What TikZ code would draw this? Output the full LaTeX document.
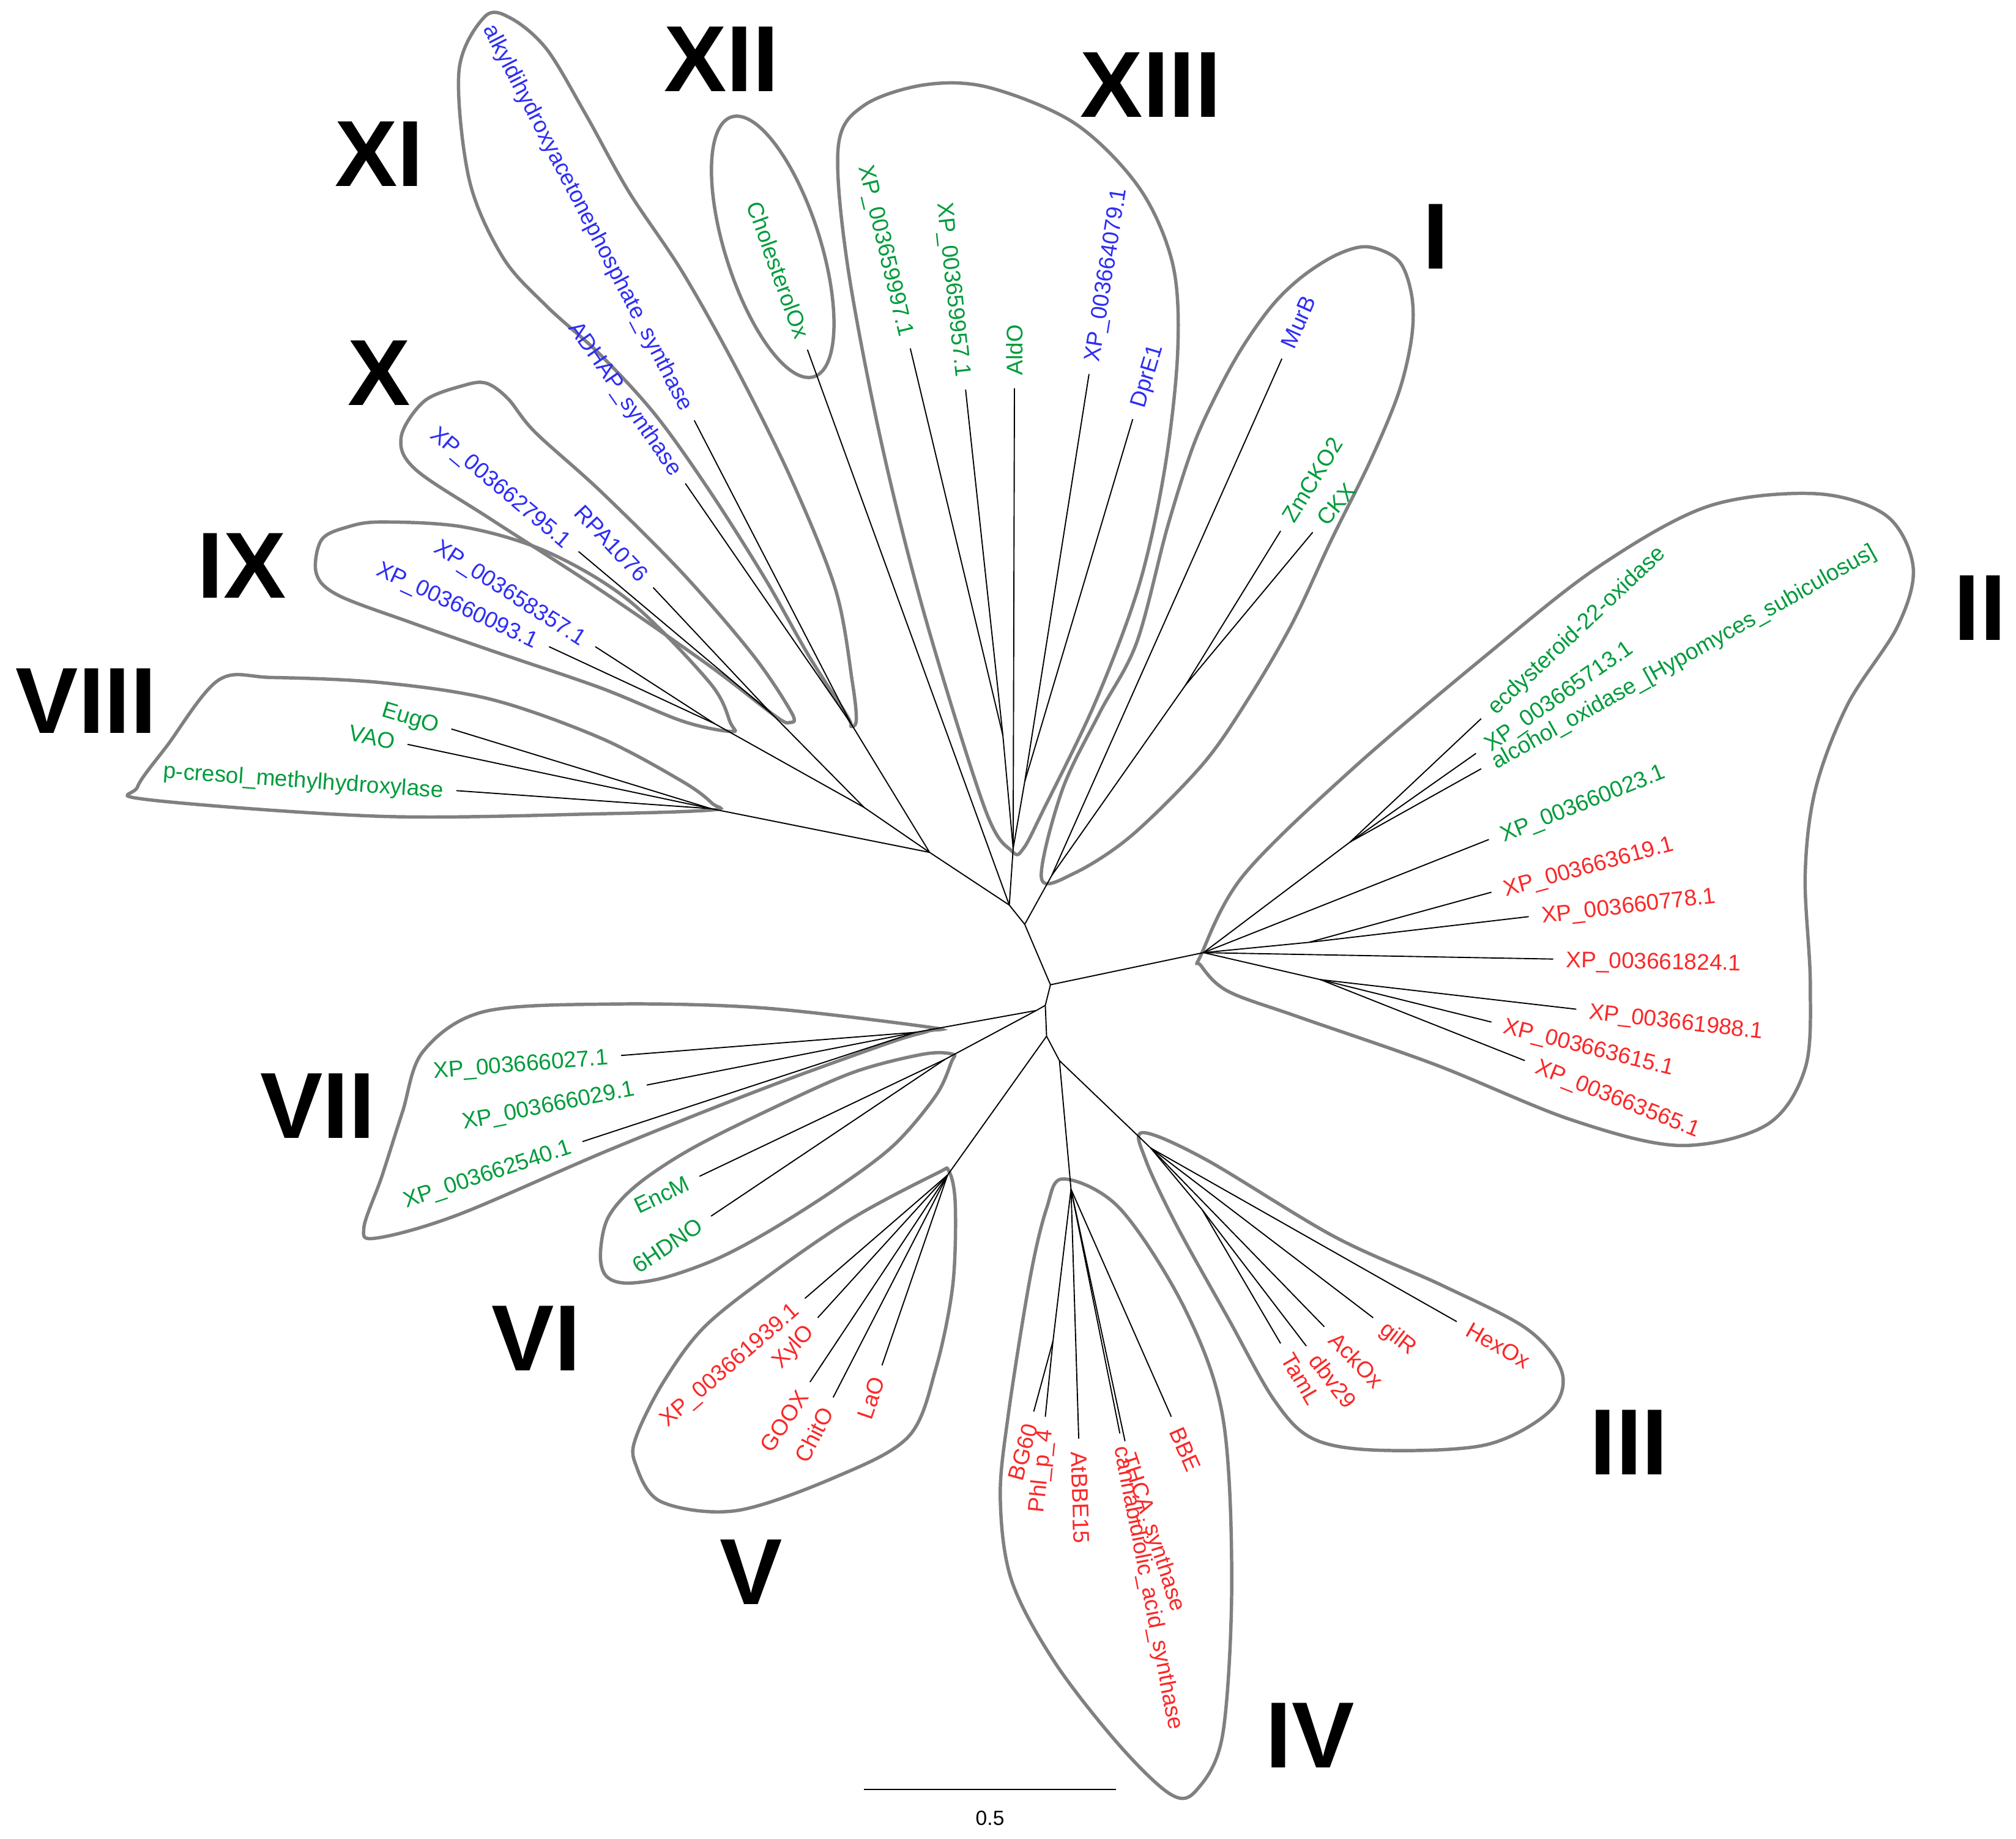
\documentclass[tikz,border=0pt]{standalone}
\usepackage{fontspec}
\setmainfont{Liberation Sans}
\usetikzlibrary{calc}
\definecolor{lgreen}{RGB}{0,155,60}
\definecolor{lblue}{RGB}{45,45,245}
\definecolor{lred}{RGB}{250,40,40}
\definecolor{hull}{RGB}{128,128,128}
% leaf reading away from the tree (right side)
\newcommand\leafR[5]{%
  \coordinate (#2) at (#3);
  \draw[branch] (#1) -- (#2);
  \path let \p1=($(#2)-(#1)$), \n1={atan2(\y1,\x1)} in
    node[leaf,text=#4,rotate=\n1,anchor=west] (l#2) at (#2) {#5};}
% leaf reading towards the tree (left side)
\newcommand\leafL[5]{%
  \coordinate (#2) at (#3);
  \draw[branch] (#1) -- (#2);
  \path let \p1=($(#2)-(#1)$), \n1={atan2(\y1,\x1)} in
    node[leaf,text=#4,rotate=\n1+180,anchor=east] (l#2) at (#2) {#5};}
\begin{document}
\begin{tikzpicture}[x=1pt,y=-1pt,
  branch/.style={line width=0.9pt,draw=black},
  hullline/.style={line width=2.6pt,draw=hull},
  leaf/.style={font=\fontsize{17.6}{17.6}\selectfont,inner xsep=10pt,inner ysep=0pt,text height=12.6pt,text depth=0pt},
  numeral/.style={font=\fontsize{73}{73}\selectfont\bfseries,inner sep=0pt},
  scaletext/.style={font=\fontsize{16}{16}\selectfont,inner sep=0pt}]
\useasboundingbox[fill=white] (0,0) rectangle (1568,1430);

% ---------- cluster outlines ----------
% XIII
\draw[hullline] plot[smooth cycle,tension=0.55] coordinates {(787,662) (766,629) (719,478) (685,342) (659,205) (652,114) (672,82) (719,66) (769,68) (836,96) (886,146) (912,205) (916,273) (906,364) (886,455) (852,546) (812,629) (796,660)};
% XII
\draw[hullline,rotate around={-72.4:(601,192)}] (601,192) ellipse [x radius=106pt,y radius=37pt];
% XI
\draw[hullline] plot[smooth cycle,tension=0.55] coordinates {(662,565) (659,557) (629,510) (595,450) (552,382) (510,323) (467,276) (425,238) (391,200) (365,140) (357,55) (377,13) (397,14) (425,38) (455,88) (489,149) (531,212) (574,289) (616,374) (650,459) (663,531) (666,560)};
% X
\draw[hullline] plot[smooth cycle,tension=0.55] coordinates {(614,562) (603,557) (552,518) (467,459) (382,404) (323,365) (312,340) (330,312) (360,300) (378,298) (395,310) (416,336) (467,382) (531,446) (586,510) (616,555)};
% IX
\draw[hullline] plot[smooth cycle,tension=0.55] coordinates {(569,569) (531,561) (467,535) (382,506) (319,484) (263,463) (246,446) (250,420) (270,410) (297,406) (361,410) (425,429) (489,467) (552,531) (568,562)};
% VIII
\draw[hullline] plot[smooth cycle,tension=0.55] coordinates {(554,630) (467,633) (297,635) (115,622) (107,612) (130,580) (170,529) (212,527) (297,531) (382,544) (467,574) (531,608) (554,625)};
% VII
\draw[hullline] plot[smooth cycle,tension=0.55] coordinates {(723,799) (593,784) (475,781) (376,787) (329,818) (313,865) (297,915) (283,955) (293,963) (356,945) (475,894) (593,847) (692,811) (722,802)};
% VI
\draw[hullline] plot[smooth cycle,tension=0.55] coordinates {(741,820) (718,820) (664,834) (601,862) (537,894) (495,922) (473,947) (467,975) (471,992) (486,998) (516,994) (558,979) (601,956) (654,922) (696,890) (728,852) (740,826)};
% V
\draw[hullline] plot[smooth cycle,tension=0.55] coordinates {(738,911) (743,937) (741,1000) (728,1064) (707,1117) (652,1148) (573,1175) (514,1168) (494,1138) (495,1117) (516,1075) (548,1032) (601,990) (664,947) (728,913)};
% IV
\draw[hullline] plot[smooth cycle,tension=0.55] coordinates {(827,917) (871,940) (921,1017) (951,1102) (958,1230) (951,1349) (931,1392) (911,1396) (871,1358) (821,1294) (787,1230) (778,1166) (784,1102) (801,995) (814,940)};
% III
\draw[hullline] plot[smooth cycle,tension=0.55] coordinates {(889,881) (938,902) (1038,962) (1122,1000) (1188,1034) (1215,1068) (1205,1098) (1155,1124) (1071,1128) (1021,1119) (991,1089) (955,1025) (915,953) (891,902)};
% II
\draw[hullline] plot[smooth cycle,tension=0.55] coordinates {(934,743) (967,681) (1052,598) (1158,508) (1243,441) (1328,394) (1412,384) (1467,401) (1488,441) (1476,487) (1437,548) (1412,614) (1404,681) (1408,765) (1404,831) (1374,875) (1306,891) (1222,871) (1116,828) (1010,791) (955,771) (934,751)};
% I
\draw[hullline] plot[smooth cycle,tension=0.55] coordinates {(810,683) (826,615) (855,555) (884,500) (908,410) (928,347) (947,305) (967,269) (990,237) (1013,215) (1040,198) (1064,192) (1088,203) (1098,230) (1098,262) (1088,305) (1066,358) (1035,421) (1005,485) (970,545) (935,595) (880,650) (836,679)};

% ---------- internal nodes ----------
\coordinate (A) at (817,766);
\coordinate (B) at (813,782);
\coordinate (C) at (797,719);
\coordinate (D) at (785,704);
\coordinate (E) at (723,663);
\coordinate (F) at (672,628);
\coordinate (G) at (814,806);
\coordinate (K) at (824,825);
\coordinate (H) at (806,786);
\coordinate (R13) at (788,660);
\coordinate (n13a) at (780,572);
\coordinate (n13b) at (797,608);
\coordinate (R1) at (818,681);
\coordinate (n1) at (922,533);
\coordinate (R2) at (936,741);
\coordinate (n2a) at (1050,655);
\coordinate (n2b) at (1018,733);
\coordinate (n2c) at (1027,762);
\coordinate (R3) at (895,893);
\coordinate (n3) at (935,941);
\coordinate (R4) at (833,925);
\coordinate (n4) at (819,1043);
\coordinate (R5) at (737,914);
\coordinate (R6) at (735,824);
\coordinate (R7) at (712,803);
\coordinate (R8) at (553,629);
\coordinate (R9) at (556,563);
\coordinate (R10) at (600,555);
\coordinate (R11) at (662,563);

\draw[branch] (C) -- (D);
\draw[branch] (C) -- (R1);
\draw[branch] (C) -- (A);
\draw[branch] (A) -- (R2);
\draw[branch] (A) -- (B);
\draw[branch] (B) -- (H);
\draw[branch] (H) -- (R7);
\draw[branch] (H) -- (R6);
\draw[branch] (B) -- (G);
\draw[branch] (G) -- (R5);
\draw[branch] (G) -- (K);
\draw[branch] (K) -- (R4);
\draw[branch] (K) -- (R3);
\draw[branch] (D) -- (E);
\draw[branch] (D) -- (R13);
\draw[branch] (E) -- (R11);
\draw[branch] (E) -- (F);
\draw[branch] (E) -- (R8);
\draw[branch] (F) -- (R9);
\draw[branch] (F) -- (R10);
\draw[branch] (R13) -- (n13a);
\draw[branch] (R13) -- (n13b);
\draw[branch] (R1) -- (n1);
\draw[branch] (R2) -- (n2a);
\draw[branch] (R2) -- (n2b);
\draw[branch] (R2) -- (n2c);
\draw[branch] (R3) -- (n3);
\draw[branch] (R4) -- (n4);

% ---------- leaves ----------
% XIII
\leafL{n13a}{t1}{708,271}{lgreen}{XP\_003659997.1}
\leafL{n13a}{t2}{751,303}{lgreen}{XP\_003659957.1}
\leafR{R13}{t3}{789,302}{lgreen}{AldO}
\leafR{n13b}{t4}{847,291}{lblue}{XP\_003664079.1}
\leafR{n13b}{t5}{881,326}{lblue}{DprE1}
% XII
\leafL{D}{t6}{628,272}{lgreen}{CholesterolOx}
% XI
\leafL{R11}{t7}{540,327}{lblue}{alkyldihydroxyacetonephosphate\_synthase}
\leafL{R11}{t8}{533,376}{lblue}{ADHAP\_synthase}
% X
\leafL{R10}{t9}{450,429}{lblue}{XP\_003662795.1}
\leafL{R10}{t10}{508,457}{lblue}{RPA1076}
% IX
\leafL{R9}{t11}{463,503}{lblue}{XP\_003658357.1}
\leafL{R9}{t12}{427,503}{lblue}{XP\_003660093.1}
% VIII
\leafL{R8}{t13}{351,567}{lgreen}{EugO}
\leafL{R8}{t14}{317,579}{lgreen}{VAO}
\leafL{R8}{t15}{355,615}{lgreen}{p-cresol\_methylhydroxylase}
% VII
\leafL{R7}{t16}{483,821}{lgreen}{XP\_003666027.1}
\leafL{R7}{t17}{503,844}{lgreen}{XP\_003666029.1}
\leafL{R7}{t18}{453,888}{lgreen}{XP\_003662540.1}
% VI
\leafL{R6}{t19}{544,915}{lgreen}{EncM}
\leafL{R6}{t20}{553,946}{lgreen}{6HDNO}
% V
\leafL{R5}{t21}{626,1010}{lred}{XP\_003661939.1}
\leafL{R5}{t22}{636,1025}{lred}{XylO}
\leafL{R5}{t23}{630,1075}{lred}{GOOX}
\leafL{R5}{t24}{648,1087}{lred}{ChitO}
\leafL{R5}{t25}{686,1062}{lred}{LaO}
% IV
\leafL{n4}{t26}{804,1098}{lred}{BG60}
\leafL{n4}{t27}{813,1102}{lred}{Phl\_p\_4}
\leafR{R4}{t28}{839,1119}{lred}{AtBBE15}
\coordinate (t29) at (875,1121);
\draw[branch] (R4) -- (t29);
\node[leaf,text=lred,rotate=-72,anchor=west] (lt29) at (t29) {THCA\_synthase};
\coordinate (t30) at (871,1115);
\draw[branch] (R4) -- (t30);
\node[leaf,text=lred,rotate=-79,anchor=west] (lt30) at (t30) {cannabidiolic\_acid\_synthase};
\leafR{R4}{t31}{911,1102}{lred}{BBE}
% III
\leafR{n3}{t32}{996,1045}{lred}{TamL}
\leafR{n3}{t33}{1016,1047}{lred}{dbv29}
\leafR{R3}{t34}{1030,1032}{lred}{AckOx}
\leafR{R3}{t35}{1068,1025}{lred}{gilR}
\leafR{R3}{t36}{1133,1028}{lred}{HexOx}
% II
\leafR{n2a}{t37}{1152,559}{lgreen}{ecdysteroid-22-oxidase}
\leafR{n2a}{t38}{1148,586}{lgreen}{XP\_003665713.1}
\leafR{n2a}{t39}{1152,598}{lgreen}{alcohol\_oxidase\_[Hypomyces\_subiculosus]}
\leafR{R2}{t40}{1158,653}{lgreen}{XP\_003660023.1}
\leafR{n2b}{t41}{1160,694}{lred}{XP\_003663619.1}
\leafR{n2b}{t42}{1189,713}{lred}{XP\_003660778.1}
\leafR{R2}{t43}{1208,746}{lred}{XP\_003661824.1}
\leafR{n2c}{t44}{1226,785}{lred}{XP\_003661988.1}
\leafR{n2c}{t45}{1160,795}{lred}{XP\_003663615.1}
\leafR{n2c}{t46}{1186,825}{lred}{XP\_003663565.1}
% I
\leafR{R1}{t47}{997,279}{lblue}{MurB}
\leafR{n1}{t48}{996,413}{lgreen}{ZmCKO2}
\leafR{n1}{t49}{1021,414}{lgreen}{CKX}

% ---------- cluster numerals ----------
\node[numeral] (nXII) at (561,46) {XII};
\node[numeral] (nXIII) at (895,66) {XIII};
\node[numeral] (nXI) at (295,120) {XI};
\node[numeral] (nI) at (1117,184) {I};
\node[numeral] (nX) at (295,290) {X};
\node[numeral] (nIX) at (188,440) {IX};
\node[numeral] (nVIII) at (67,545) {VIII};
\node[numeral] (nII) at (1540,473) {II};
\node[numeral] (nVII) at (247,860) {VII};
\node[numeral] (nVI) at (417,1041) {VI};
\node[numeral] (nV) at (584,1223) {V};
\node[numeral] (nIV) at (1019,1350) {IV};
\node[numeral] (nIII) at (1267,1122) {III};

% ---------- scale bar ----------
\coordinate (sb1) at (672,1392);
\coordinate (sb2) at (868,1392);
\draw[branch] (sb1) -- (sb2);
\node[scaletext] (sbl) at (770,1414) {0.5};
\end{tikzpicture}
\end{document}
